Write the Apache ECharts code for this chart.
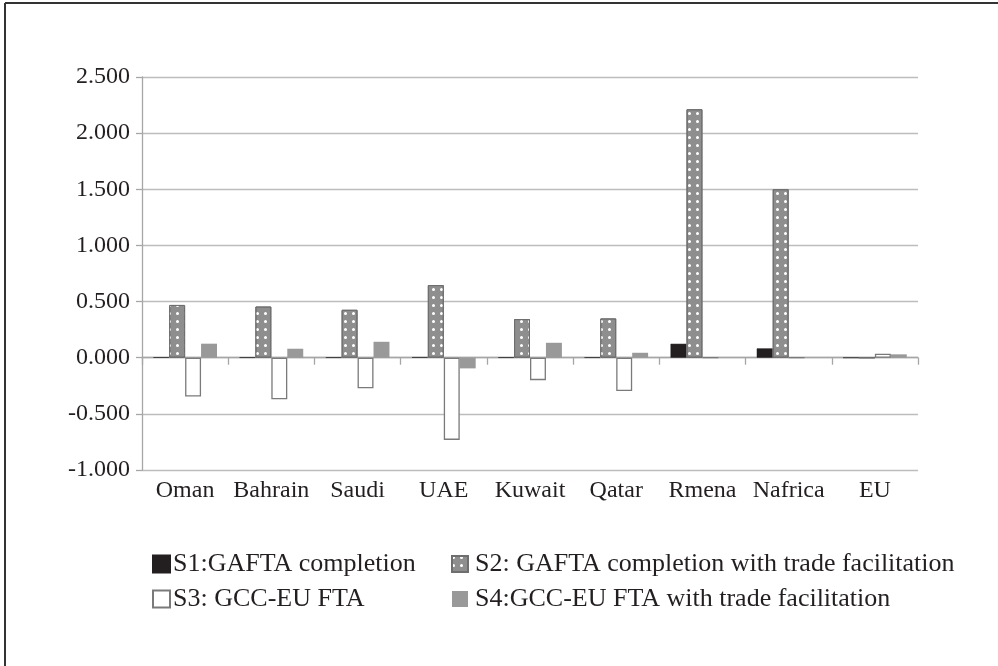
<!DOCTYPE html>
<html>
<head>
<meta charset="utf-8">
<script src="https://cdn.jsdelivr.net/npm/echarts@6/dist/echarts.min.js"></script>
<style>
html,body{margin:0;padding:0;background:#fff;}
#c{width:998px;height:666px;}
</style>
</head>
<body>
<div id="c"></div>
<script>
var categories = ['Oman','Bahrain','Saudi','UAE','Kuwait','Qatar','Rmena','Nafrica','EU'];
var s1Name = 'S1:GAFTA completion';
var s2Name = 'S2: GAFTA completion with trade facilitation';
var s3Name = 'S3: GCC-EU FTA';
var s4Name = 'S4:GCC-EU FTA with trade facilitation';
var s1 = [0.004, 0.003, 0.003, 0.005, 0.003, 0.003, 0.124, 0.083, 0.000];
var s2 = [0.470, 0.456, 0.427, 0.647, 0.344, 0.350, 2.213, 1.501, 0.000];
var s3 = [-0.345, -0.370, -0.273, -0.732, -0.200, -0.297, 0.000, 0.000, 0.035];
var s4 = [0.125, 0.080, 0.142, -0.095, 0.133, 0.044, 0.000, 0.000, 0.030];
var yTicks = {min: -1, max: 2.5, interval: 0.5};

var FONT = 'Liberation Serif';
var TXT = '#231f20';
var chart = echarts.init(document.getElementById('c'));
var option = {
  animation: false,
  backgroundColor: '#fff',
  grid: {left: 142, right: 80, top: 77, bottom: 196, containLabel: false},
  graphic: [
    {type: 'line', shape: {x1: 5, y1: 3, x2: 998, y2: 3}, style: {stroke: '#333', lineWidth: 2}},
    {type: 'line', shape: {x1: 5, y1: 3, x2: 5, y2: 666}, style: {stroke: '#333', lineWidth: 2}}
  ],
  legend: [
    {
      data: [s1Name, s3Name], orient: 'vertical', left: 147, top: 546, icon: 'rect',
      itemWidth: 17, itemHeight: 17, itemGap: 9,
      textStyle: {fontFamily: FONT, fontSize: 26, color: TXT, padding: [0,0,0,-2]}
    },
    {
      data: [s2Name, s4Name], orient: 'vertical', left: 446, top: 546, icon: 'rect',
      itemWidth: 16, itemHeight: 16, itemGap: 9,
      textStyle: {fontFamily: FONT, fontSize: 26, color: TXT, padding: [0,0,0,2]}
    }
  ],
  xAxis: [
    {
      type: 'category', data: categories, boundaryGap: true,
      axisLine: {onZero: true, lineStyle: {color: '#a6a6a6', width: 1.3}},
      axisTick: {show: true, length: 7, inside: false, lineStyle: {color: '#a6a6a6', width: 1.3}},
      axisLabel: {show: false},
      splitLine: {show: false}
    },
    {
      type: 'category', data: categories, position: 'bottom', boundaryGap: true,
      axisLine: {show: false}, axisTick: {show: false},
      axisLabel: {show: true, margin: 9, fontFamily: FONT, fontSize: 24, color: TXT, interval: 0}
    }
  ],
  yAxis: {
    type: 'value', min: yTicks.min, max: yTicks.max, interval: yTicks.interval,
    axisLine: {show: true, lineStyle: {color: '#a6a6a6', width: 1.3}},
    axisTick: {show: true, length: 6, lineStyle: {color: '#a6a6a6', width: 1.3}},
    axisLabel: {margin: 12, fontFamily: FONT, fontSize: 24, color: TXT,
      formatter: function (v) { return v.toFixed(3); }},
    splitLine: {show: true, lineStyle: {color: '#bdbdbd', width: 1.3}}
  },
  series: [
    {
      name: s1Name, type: 'bar', data: s1, xAxisIndex: 0,
      barGap: '0%', barCategoryGap: '26%',
      itemStyle: {color: '#231f20', borderColor: '#231f20', borderWidth: 0.5}
    },
    {
      name: s2Name, type: 'bar', data: s2, xAxisIndex: 0,
      barGap: '0%', barCategoryGap: '26%',
      itemStyle: {
        color: '#8e8e8e', borderColor: '#6e6e6e', borderWidth: 1,
        decal: {symbol: 'circle', symbolSize: 1, color: '#ffffff',
          dashArrayX: [3, 5], dashArrayY: [3, 5], rotation: 0}
      }
    },
    {
      name: s3Name, type: 'bar', data: s3, xAxisIndex: 0,
      barGap: '0%', barCategoryGap: '26%',
      itemStyle: {color: '#ffffff', borderColor: '#7a7a7a', borderWidth: 1.3}
    },
    {
      name: s4Name, type: 'bar', data: s4, xAxisIndex: 0,
      barGap: '0%', barCategoryGap: '26%',
      itemStyle: {color: '#999999'}
    }
  ]
};
chart.setOption(option);
</script>
</body>
</html>
